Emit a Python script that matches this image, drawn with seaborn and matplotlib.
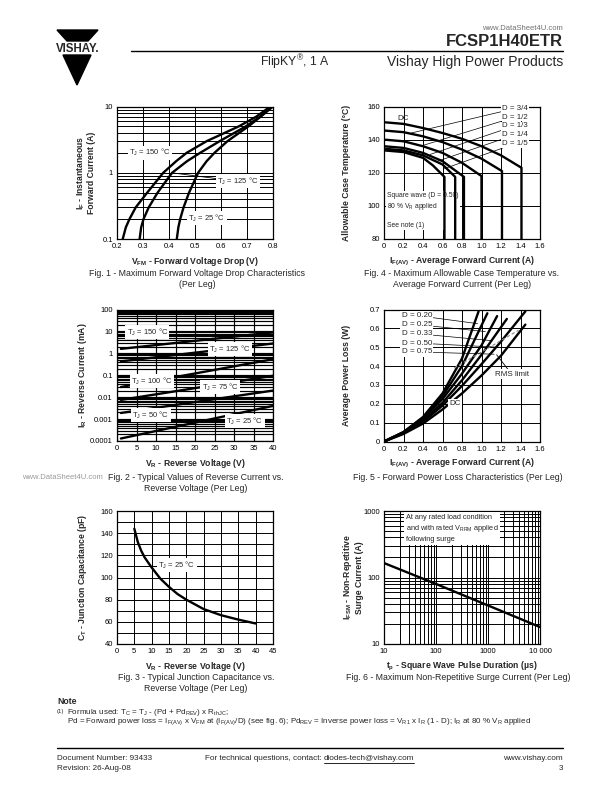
import matplotlib
matplotlib.use("Agg")
import matplotlib.pyplot as plt
from matplotlib.patches import Polygon
from matplotlib.lines import Line2D
from matplotlib.ticker import MultipleLocator, LogLocator, NullFormatter
import seaborn as sns
import pandas as pd

sns.set_style("white")
plt.rcParams['font.family'] = ['Liberation Sans', 'DejaVu Sans']
plt.rcParams['mathtext.default'] = 'regular'

# ---- Fig. 1 : forward voltage drop (I_F vs V_FM)
fwd_if = [0.1, 0.15, 0.2, 0.3, 0.5, 0.7, 1, 1.5, 2, 3, 5, 7, 10]
fwd_v150 = [0.222, 0.234, 0.248, 0.272, 0.316, 0.346, 0.378, 0.428, 0.468, 0.545, 0.668, 0.735, 0.79]
fwd_v125 = [0.287, 0.293, 0.302, 0.322, 0.356, 0.383, 0.412, 0.47, 0.52, 0.595, 0.695, 0.75, 0.795]
fwd_v25 = [0.43, 0.436, 0.443, 0.456, 0.477, 0.494, 0.512, 0.545, 0.575, 0.625, 0.705, 0.752, 0.8]

# ---- Fig. 4 : allowable case temperature
case_dc_i = [0, 0.2, 0.4, 0.6, 0.8, 1.0, 1.2, 1.41, 1.41]
case_dc_t = [150.5, 149.5, 147, 144, 140.5, 136, 130.5, 123, 80]
case_34_i = [0, 0.2, 0.4, 0.6, 0.8, 1.0, 1.21, 1.21]
case_34_t = [145.5, 144.5, 142, 138.5, 134, 128.5, 121, 80]
case_12_i = [0, 0.2, 0.4, 0.6, 0.8, 1.0, 1.0]
case_12_t = [140, 139, 136, 132, 126, 118, 80]
case_13_i = [0, 0.2, 0.4, 0.6, 0.82, 0.82]
case_13_t = [136, 135, 132, 127, 117.5, 80]
case_14_i = [0, 0.2, 0.4, 0.6, 0.73, 0.73]
case_14_t = [134.5, 133.5, 130.5, 125, 117.5, 80]
case_15_i = [0, 0.2, 0.4, 0.5, 0.62, 0.62]
case_15_t = [133.5, 132.5, 129, 124.5, 117.5, 80]

# ---- Fig. 2 : reverse current
rev_v = [1, 40]
rev_150 = [1.6, 9]
rev_125 = [0.43, 2.8]
rev_100 = [0.029, 0.54]
rev_75 = [0.0075, 0.095]
rev_50 = [0.0019, 0.02]
rev_25 = [0.00013, 0.004]

# ---- Fig. 5 : forward power loss
pl_20_i = [0, 0.2, 0.4, 0.6, 0.8, 0.97]
pl_20_p = [0, 0.05, 0.13, 0.255, 0.44, 0.69]
pl_25_i = [0, 0.2, 0.4, 0.6, 0.8, 1.06]
pl_25_p = [0, 0.05, 0.125, 0.24, 0.4, 0.68]
pl_33_i = [0, 0.2, 0.4, 0.6, 0.8, 1.0, 1.16]
pl_33_p = [0, 0.048, 0.12, 0.225, 0.36, 0.51, 0.665]
pl_50_i = [0, 0.2, 0.4, 0.6, 0.8, 1.0, 1.26]
pl_50_p = [0, 0.046, 0.112, 0.205, 0.325, 0.46, 0.65]
pl_75_i = [0, 0.2, 0.4, 0.6, 0.8, 1.0, 1.2, 1.45]
pl_75_p = [0, 0.044, 0.105, 0.19, 0.295, 0.41, 0.53, 0.69]
pl_dc_i = [0, 0.2, 0.4, 0.6, 0.8, 1.0, 1.2, 1.45]
pl_dc_p = [0, 0.04, 0.095, 0.17, 0.255, 0.35, 0.455, 0.62]
rms_i = [0.72, 1.38]
rms_p = [0.39, 0.59]

# ---- Fig. 3 : junction capacitance
cap_v = [5, 6, 7, 8, 10, 12.5, 15, 17.5, 20, 25, 30, 35, 40]
cap_pf = [144, 132, 124, 118, 109, 99, 91.5, 85, 80, 71.5, 66, 62, 58.5]

# ---- Fig. 6 : non-repetitive surge current
surge_tp = [10, 100, 1000, 10000]
surge_a = [165, 80, 38, 18]

W, H = 612, 792
fig = plt.figure(figsize=(W / 100, H / 100), dpi=100)
TICK = 5.5
LAB = 6.2
ANN = 5.5
box = dict(facecolor='white', edgecolor='none', pad=1.0)


def fx(x):
    return x / W


def fy(y):
    return 1 - y / H


def make_ax(left, top, width, height):
    ax = fig.add_axes([left / W, 1 - (top + height) / H, width / W, height / H])
    for s in ax.spines.values():
        s.set_color('black')
        s.set_linewidth(0.9)
    ax.tick_params(which='both', length=0, labelsize=TICK, pad=3, colors='black')
    return ax


def curves(ax, pairs):
    rows = []
    for k, (xs, ys) in enumerate(pairs):
        for x, y in zip(xs, ys):
            rows.append({'x': x, 'y': y, 'curve': k})
    df = pd.DataFrame(rows)
    sns.lineplot(data=df, x='x', y='y', units='curve', estimator=None, sort=False,
                 color='black', lw=1.7, ax=ax, legend=False)


def labels(ax, xl, yl, yx, xy=-0.17):
    ax.set_xlabel(xl, fontsize=LAB, fontweight='bold', va='center')
    ax.set_ylabel(yl, fontsize=LAB, fontweight='bold', va='center', linespacing=1.1)
    ax.xaxis.set_label_coords(0.5, xy)
    ax.yaxis.set_label_coords(yx, 0.5)


def grid(ax, which='both', lw=0.7):
    ax.grid(True, which=which, color='black', lw=lw)
    ax.set_axisbelow(True)


# Fig. 1
ax1 = make_ax(117, 106.5, 156, 132.5)
ax1.set_yscale('log')
curves(ax1, [(fwd_v150, fwd_if), (fwd_v125, fwd_if), (fwd_v25, fwd_if)])
ax1.set_xlim(0.2, 0.8)
ax1.set_ylim(0.1, 10)
ax1.xaxis.set_major_locator(MultipleLocator(0.1))
ax1.set_yticks([0.1, 1, 10])
ax1.set_yticklabels(['0.1', '1', '10'])
ax1.yaxis.set_minor_locator(LogLocator(base=10, subs=range(2, 10)))
ax1.yaxis.set_minor_formatter(NullFormatter())
grid(ax1)
ax1.text(0.326, 2.0, 'T$_J$ = 150 °C', fontsize=ANN, ha='center', va='center', bbox=box)
ax1.annotate('T$_J$ = 125 °C', xy=(0.41, 1.0), xytext=(0.665, 0.74), fontsize=ANN, ha='center',
             va='center', bbox=box, arrowprops=dict(arrowstyle='-', lw=0.6, color='black', shrinkA=0, shrinkB=0))
ax1.text(0.546, 0.207, 'T$_J$ = 25 °C', fontsize=ANN, ha='center', va='center', bbox=box)
labels(ax1, 'V$_{FM}$ - Forward Voltage Drop (V)', 'I$_F$ - Instantaneous\nForward Current (A)', -0.2)

# Fig. 4
ax4 = make_ax(384, 106.5, 156, 132.5)
curves(ax4, [(case_dc_i, case_dc_t), (case_34_i, case_34_t), (case_12_i, case_12_t),
             (case_13_i, case_13_t), (case_14_i, case_14_t), (case_15_i, case_15_t)])
ax4.set_xlim(0, 1.6)
ax4.set_ylim(80, 160)
ax4.set_xticks([0, 0.2, 0.4, 0.6, 0.8, 1.0, 1.2, 1.4, 1.6])
ax4.set_xticklabels(['0', '0.2', '0.4', '0.6', '0.8', '1.0', '1.2', '1.4', '1.6'])
ax4.set_yticks([80, 100, 120, 140, 160])
grid(ax4, 'major')
ax4.text(0.2, 153, 'DC', fontsize=ANN + 0.3, ha='center', va='center')
d_labels = ['D = 3/4', 'D = 1/2', 'D = 1/3', 'D = 1/4', 'D = 1/5']
d_label_t = [158.8, 153.6, 148.3, 142.9, 137.5]
d_target = [(0.28, 144), (0.4, 136.5), (0.47, 131), (0.55, 127), (0.62, 122.5)]
for txt, ty, tgt in zip(d_labels, d_label_t, d_target):
    ax4.annotate(txt, xy=tgt, xytext=(1.21, ty), fontsize=ANN + 0.2, ha='left',
                 va='center', bbox=dict(facecolor='white', edgecolor='none', pad=0.6),
                 arrowprops=dict(arrowstyle='-', lw=0.5, color='black', shrinkA=0, shrinkB=0))
# the note box sits over the grid but under the curves
ax4.text(0.03, 108.5, 'Square wave (D = 0.50)\n80 % V$_R$ applied\n\nSee note (1)', fontsize=4.9,
         ha='left', va='top', linespacing=1.3, zorder=1.5,
         bbox=dict(facecolor='white', edgecolor='none', pad=0.8))
labels(ax4, 'I$_{F(AV)}$ - Average Forward Current (A)', 'Allowable Case Temperature (°C)', -0.24)

# Fig. 2
ax2 = make_ax(117, 309.5, 156, 131.5)
ax2.set_yscale('log')
curves(ax2, [(rev_v, rev_150), (rev_v, rev_125), (rev_v, rev_100),
             (rev_v, rev_75), (rev_v, rev_50), (rev_v, rev_25)])
ax2.set_xlim(0, 40)
ax2.set_ylim(0.0001, 100)
ax2.xaxis.set_major_locator(MultipleLocator(5))
ax2.set_yticks([0.0001, 0.001, 0.01, 0.1, 1, 10, 100])
ax2.set_yticklabels(['0.0001', '0.001', '0.01', '0.1', '1', '10', '100'])
ax2.yaxis.set_minor_locator(LogLocator(base=10, subs=range(2, 10)))
ax2.yaxis.set_minor_formatter(NullFormatter())
grid(ax2, lw=0.85)
for txt, x, y in [('T$_J$ = 150 °C', 7.8, 9), ('T$_J$ = 125 °C', 29, 1.5), ('T$_J$ = 100 °C', 9, 0.052),
                  ('T$_J$ = 75 °C', 26.5, 0.029), ('T$_J$ = 50 °C', 8.7, 0.0015), ('T$_J$ = 25 °C', 32.8, 0.00078)]:
    ax2.text(x, y, txt, fontsize=ANN, ha='center', va='center', bbox=box)
labels(ax2, 'V$_R$ - Reverse Voltage (V)', 'I$_R$ - Reverse Current (mA)', -0.22)

# Fig. 5
ax5 = make_ax(384, 309.5, 156, 132)
curves(ax5, [(pl_20_i, pl_20_p), (pl_25_i, pl_25_p), (pl_33_i, pl_33_p),
             (pl_50_i, pl_50_p), (pl_75_i, pl_75_p), (pl_dc_i, pl_dc_p)])
sns.lineplot(x=rms_i, y=rms_p, color='#888888', lw=0.8, ls=(0, (3, 2)), ax=ax5)
ax5.set_xlim(0, 1.6)
ax5.set_ylim(0, 0.7)
ax5.set_xticks([0, 0.2, 0.4, 0.6, 0.8, 1.0, 1.2, 1.4, 1.6])
ax5.set_xticklabels(['0', '0.2', '0.4', '0.6', '0.8', '1.0', '1.2', '1.4', '1.6'])
ax5.set_yticks([0, 0.1, 0.2, 0.3, 0.4, 0.5, 0.6, 0.7])
ax5.set_yticklabels(['0', '0.1', '0.2', '0.3', '0.4', '0.5', '0.6', '0.7'])
grid(ax5, 'major')
p_labels = ['D = 0.20', 'D = 0.25', 'D = 0.33', 'D = 0.50', 'D = 0.75']
p_label_y = [0.668, 0.62, 0.572, 0.522, 0.475]
p_target = [(0.96, 0.625), (1.04, 0.583), (1.1, 0.535), (1.17, 0.5), (1.13, 0.463)]
for txt, ty, tgt in zip(p_labels, p_label_y, p_target):
    ax5.annotate(txt, xy=tgt, xytext=(0.18, ty), fontsize=ANN + 0.3, ha='left', va='center', bbox=box,
                 arrowprops=dict(arrowstyle='-', lw=0.5, color='black', shrinkA=0, shrinkB=0))
ax5.annotate('RMS limit', xy=(1.155, 0.46), xytext=(1.31, 0.357), fontsize=ANN + 0.3, ha='center',
             va='center', bbox=box, arrowprops=dict(arrowstyle='-', lw=0.6, color='black', shrinkA=0, shrinkB=0))
ax5.text(0.73, 0.2, 'DC', fontsize=ANN + 0.3, ha='center', va='center', bbox=box)
labels(ax5, 'I$_{F(AV)}$ - Average Forward Current (A)', 'Average Power Loss (W)', -0.24)

# Fig. 3
ax3 = make_ax(117, 511, 156, 133)
curves(ax3, [(cap_v, cap_pf)])
ax3.set_xlim(0, 45)
ax3.set_ylim(40, 160)
ax3.xaxis.set_major_locator(MultipleLocator(5))
ax3.yaxis.set_major_locator(MultipleLocator(20))
ax3.yaxis.set_minor_locator(MultipleLocator(10))
grid(ax3)
ax3.text(17.3, 111, 'T$_J$ = 25 °C', fontsize=ANN, ha='center', va='center', bbox=box)
labels(ax3, 'V$_R$ - Reverse Voltage (V)', 'C$_T$ - Junction Capacitance (pF)', -0.22)

# Fig. 6
ax6 = make_ax(384, 511, 156, 133)
ax6.set_xscale('log')
ax6.set_yscale('log')
curves(ax6, [(surge_tp, surge_a)])
ax6.set_xlim(10, 10000)
ax6.set_ylim(10, 1000)
ax6.set_xticks([10, 100, 1000, 10000])
ax6.set_xticklabels(['10', '100', '1000', '10 000'])
ax6.set_yticks([10, 100, 1000])
ax6.set_yticklabels(['10', '100', '1000'])
for a in (ax6.xaxis, ax6.yaxis):
    a.set_minor_locator(LogLocator(base=10, subs=range(2, 10)))
    a.set_minor_formatter(NullFormatter())
grid(ax6)
ax6.text(26, 900, 'At any rated load condition\nand with rated V$_{RRM}$ applied\nfollowing surge',
         fontsize=5.3, ha='left', va='top', linespacing=1.35,
         bbox=dict(facecolor='white', edgecolor='none', pad=1.5))
labels(ax6, 't$_p$ - Square Wave Pulse Duration (µs)', 'I$_{FSM}$ - Non-Repetitive\nSurge Current (A)', -0.2)

# captions
cap_style = dict(fontsize=6.3, ha='center', va='center', linespacing=1.3)
fig.text(fx(197), fy(279), 'Fig. 1 - Maximum Forward Voltage Drop Characteristics\n(Per Leg)', **cap_style)
fig.text(fx(462), fy(279), 'Fig. 4 - Maximum Allowable Case Temperature vs.\nAverage Forward Current (Per Leg)', **cap_style)
fig.text(fx(196), fy(483), 'Fig. 2 - Typical Values of Reverse Current vs.\nReverse Voltage (Per Leg)', **cap_style)
fig.text(fx(458), fy(478), 'Fig. 5 - Forward Power Loss Characteristics (Per Leg)', **cap_style)
fig.text(fx(196), fy(683), 'Fig. 3 - Typical Junction Capacitance vs.\nReverse Voltage (Per Leg)', **cap_style)
fig.text(fx(458), fy(678), 'Fig. 6 - Maximum Non-Repetitive Surge Current (Per Leg)', **cap_style)
fig.text(fx(22), fy(478), 'www.DataSheet4U.com', fontsize=5.5, color='#9a9a9a', ha='left', va='center')

# header
fig.add_artist(Polygon([(fx(57), fy(30)), (fx(98), fy(30)), (fx(88), fy(41)), (fx(67), fy(41))],
                       closed=True, transform=fig.transFigure, color='black'))
fig.add_artist(Polygon([(fx(63), fy(55)), (fx(91), fy(55)), (fx(77), fy(85))],
                       closed=True, transform=fig.transFigure, color='black'))
fig.text(fx(77.5), fy(48.5), 'VISHAY.', fontsize=8.3, fontweight='heavy', ha='center', va='center')
fig.add_artist(Line2D([fx(131), fx(563)], [fy(51), fy(51)], transform=fig.transFigure, color='black', lw=1.0))
fig.text(fx(563), fy(42), 'FCSP1H40ETR', fontsize=12, fontweight='bold', ha='right', va='center')
fig.text(fx(563), fy(29), 'www.DataSheet4U.com', fontsize=5.5, color='#707070', ha='right', va='center')
fig.text(fx(330), fy(62), 'FlipKY$^{®}$, 1 A', fontsize=8.8, ha='right', va='center')
fig.text(fx(563), fy(62), 'Vishay High Power Products', fontsize=10, ha='right', va='center')

# note
fig.text(fx(57), fy(702), 'Note', fontsize=6.2, fontweight='bold', ha='left', va='center')
fig.text(fx(57), fy(711), '(1)', fontsize=4.2, ha='left', va='center')
fig.text(fx(67), fy(712.5), 'Formula used: T$_C$ = T$_J$ - (Pd + Pd$_{REV}$) x R$_{thJC}$;', fontsize=5.8,
         ha='left', va='center')
fig.text(fx(67), fy(722), 'Pd = Forward power loss = I$_{F(AV)}$ x V$_{FM}$ at (I$_{F(AV)}$/D) (see fig. 6); '
         'Pd$_{REV}$ = Inverse power loss = V$_{R1}$ x I$_R$ (1 - D); I$_R$ at 80 % V$_R$ applied',
         fontsize=5.8, ha='left', va='center')

# footer
FOOT = 5.85
fig.add_artist(Line2D([fx(57), fx(563)], [fy(748), fy(748)], transform=fig.transFigure, color='black', lw=1.0))
fig.text(fx(57), fy(758), 'Document Number: 93433', fontsize=FOOT, ha='left', va='center')
fig.text(fx(57), fy(768), 'Revision: 26-Aug-08', fontsize=FOOT, ha='left', va='center')
mail = fig.text(fx(414), fy(758), 'diodes-tech@vishay.com', fontsize=FOOT, ha='right', va='center')
renderer = fig.canvas.get_renderer()
mb = mail.get_window_extent(renderer)
fig.text((mb.x0 - 2) / W, fy(758), 'For technical questions, contact:', fontsize=FOOT, ha='right', va='center')
fig.add_artist(Line2D([mb.x0 / W, mb.x1 / W], [(mb.y0 - 1.2) / H, (mb.y0 - 1.2) / H],
                      transform=fig.transFigure, color='black', lw=0.6))
fig.text(fx(563), fy(758), 'www.vishay.com', fontsize=FOOT, ha='right', va='center')
fig.text(fx(563), fy(768), '3', fontsize=FOOT, ha='right', va='center')

fig.savefig('out.png', dpi=100)
